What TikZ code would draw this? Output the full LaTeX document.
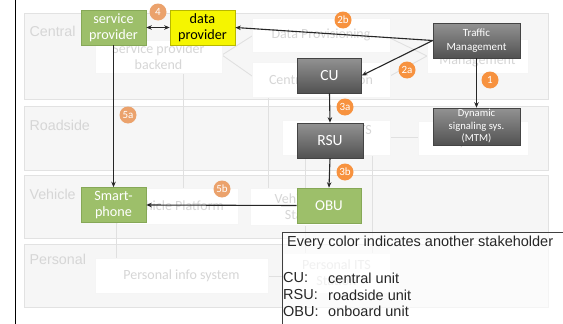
\documentclass[tikz,border=0pt]{standalone}
\usepackage{fontspec}
\setmainfont{Liberation Sans}
\newfontfamily\boxfont{Carlito}
\usetikzlibrary{arrows.meta}

\definecolor{laneborder}{HTML}{E2E2E2}
\definecolor{lanefill}{HTML}{F6F6F6}
\definecolor{ghosttext}{HTML}{D6D6D6}
\definecolor{ghostline}{HTML}{E0E0E0}
\definecolor{stgreen}{HTML}{9DBF6A}
\definecolor{stgreenedge}{HTML}{86A857}
\definecolor{styellow}{HTML}{F5F500}
\definecolor{styellowedge}{HTML}{B8B800}
\definecolor{graytop}{HTML}{929292}
\definecolor{graybot}{HTML}{525252}
\definecolor{grayedge}{HTML}{444444}
\definecolor{stepbright}{HTML}{F7923F}
\definecolor{stepfaded}{HTML}{EBA26C}

\tikzset{
  lane/.style={draw=laneborder, fill=lanefill, line width=0.8pt},
  lanelabel/.style={text=ghosttext, font=\fontsize{14.3}{16}\selectfont, anchor=west},
  ghost/.style={fill=white, draw=white!96!black, text=ghosttext, inner sep=0pt,
    font=\boxfont\fontsize{14}{16}\selectfont, align=center},
  ghostlink/.style={draw=ghostline, line width=0.9pt},
  actor/.style={inner sep=0pt, align=center, line width=0.6pt,
    minimum width=65pt, minimum height=35pt},
  greenbox/.style={actor, fill=stgreen, draw=stgreenedge, text=white,
    font=\boxfont\fontsize{14.2}{16}\selectfont},
  yellowbox/.style={actor, fill=styellow, draw=styellowedge, text=black,
    font=\boxfont\fontsize{14.2}{16}\selectfont},
  graybox/.style={actor, top color=graytop, bottom color=graybot, draw=grayedge, text=white},
  stepno/.style={circle, inner sep=0pt, minimum size=17pt, text=white,
    font=\boxfont\fontsize{11}{12}\selectfont},
  bright/.style={stepno, fill=stepbright},
  faded/.style={stepno, fill=stepfaded},
  flow/.style={draw=black!85, line width=1.1pt, -{Stealth[length=5.5pt,width=4.5pt]}},
  legendtext/.style={anchor=west, inner sep=0pt, text=black!85,
    font=\fontsize{14.5}{17}\selectfont}
}

\begin{document}
\begin{tikzpicture}[x=1pt,y=-1pt]
\useasboundingbox (0,0) rectangle (563,324);
\fill[white] (0,0) rectangle (563,324);

% page edge on the left
\draw[black, line width=1.2pt] (15.5,0) -- (15.5,324);

% swim lanes
\draw[lane] (24,13)  rectangle (548,99);
\draw[lane] (24,106) rectangle (548,170);
\draw[lane] (24,175) rectangle (548,238);
\draw[lane] (24,244) rectangle (548,307);
\node[lanelabel] (lcentral)  at (26,31)  {Central};
\node[lanelabel] (lroadside) at (26,125) {Roadside};
\node[lanelabel] (lvehicle)  at (26,194) {Vehicle};
\node[lanelabel] (lpersonal) at (26,259) {Personal};

% faint architecture links
\coordinate (spbjoin) at (222,55);
\coordinate (tmjoin)  at (427,56);
\draw[ghostlink] (183,73) -- (183,188);
\draw[ghostlink] (268,97) -- (268,188);
\draw[ghostlink] (305,155) -- (305,253);
\draw[ghostlink] (372,155) -- (372,253);
\draw[ghostlink] (116,215) -- (116,260);
\draw[ghostlink] (390,137) -- (418,137);
\draw[ghostlink] (268,276) -- (283,276);
\draw[ghostlink] (252,36) -- (spbjoin) -- (252,76);
\draw[ghostlink] (390,38) -- (tmjoin) -- (390,76);

% faint architecture boxes
\node[ghost, minimum width=127pt, minimum height=33pt] (spb) at (158.5,56.5) {Service provider\\backend};
\node[ghost, minimum width=138pt, minimum height=34pt] (dprov) at (321,35) {Data Provisioning};
\node[ghost, minimum width=138pt, minimum height=35pt] (cits) at (321,79.5) {Central ITS Station};
\node[ghost, minimum width=101pt, minimum height=34pt] (tmg) at (477.5,56) {\\[3pt]Management};
\node[ghost, minimum width=108pt, minimum height=35pt] (rits) at (336,137.5) {Roadside ITS\\Station};
\node[ghost, minimum width=110pt, minimum height=34pt] (sys) at (473,138) {\\[2pt]System};
\node[ghost, minimum width=121pt, minimum height=36pt] (vplat) at (177.5,206) {Vehicle Platform};
\node[ghost, minimum width=110pt, minimum height=37pt] (vits) at (305,206.5) {Vehicle ITS\\Station};
\node[ghost, minimum width=173pt, minimum height=35pt] (pinfo) at (181.5,275.5) {Personal info system};
\node[ghost, minimum width=107pt, minimum height=40pt] (pits) at (336.5,273) {Personal ITS\\Station};

% stakeholders
\node[greenbox] (sp) at (113.5,27.5) {service\\provider};
\node[yellowbox] (dp) at (202.5,27.5) {data\\provider};
\node[graybox, minimum width=87pt, font=\boxfont\fontsize{11}{13.5}\selectfont] (tm) at (476.5,40.5) {Traffic\\Management};
\node[graybox, minimum width=87pt, minimum height=37pt, font=\boxfont\fontsize{10.6}{12.5}\selectfont] (mtm) at (476.5,126.5) {Dynamic\\signaling sys.\\(MTM)};
\node[graybox, minimum width=64pt, font=\boxfont\fontsize{15.5}{17}\selectfont] (cu) at (329.5,75.5) {CU};
\node[graybox, minimum width=66pt, font=\boxfont\fontsize{15.5}{17}\selectfont] (rsu) at (330,140.5) {RSU};
\node[greenbox, minimum width=64pt, font=\boxfont\fontsize{15}{17}\selectfont] (obu) at (329,205.5) {OBU};
\node[greenbox] (phone) at (113.5,205) {Smart-\\phone};

% information flows
\draw[flow, {Stealth[length=5.5pt,width=4.5pt]}-{Stealth[length=5.5pt,width=4.5pt]}] (sp.east) -- (dp.west);
\draw[flow] (tm.west) -- (dp.east);
\draw[flow] (tm.west) -- (cu.east);
\draw[flow] (tm.south) -- (mtm.north);
\draw[flow] (cu.south) -- (rsu.north);
\draw[flow] (rsu.south) -- (obu.north);
\draw[flow] (obu.west) -- (phone.east);
\draw[flow] (sp.south) -- (phone.north);

% step numbers
\node[faded]  (s4)  at (158,12)  {4};
\node[bright] (s2b) at (343,20)  {2b};
\node[bright] (s2a) at (407,70)  {2a};
\node[bright] (s1)  at (490,80)  {1};
\node[bright] (s3a) at (345,107) {3a};
\node[bright] (s3b) at (345,172) {3b};
\node[faded]  (s5a) at (128,115) {5a};
\node[faded]  (s5b) at (222,189) {5b};

% legend
\draw[black!75, line width=0.8pt, fill=white, fill opacity=0.65] (282,232) rectangle (570,330);
\node[legendtext] (lhead) at (287,243) {Every color indicates another stakeholder};
\node[legendtext] (lcu)   at (283,278) {CU:};
\node[legendtext] (lcut)  at (328,278) {central unit};
\node[legendtext] (lrsu)  at (283,295) {RSU:};
\node[legendtext] (lrsut) at (328,295) {roadside unit};
\node[legendtext] (lobu)  at (283,311.5) {OBU:};
\node[legendtext] (lobut) at (328,311.5) {onboard unit};
\end{tikzpicture}
\end{document}
